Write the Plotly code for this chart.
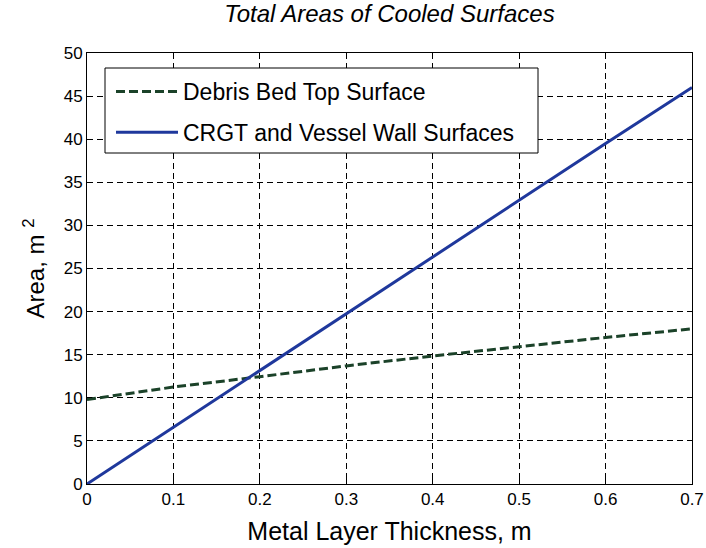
import plotly.graph_objects as go

thickness = [0.0, 0.1, 0.2, 0.3, 0.4, 0.5, 0.6, 0.7]
debris_area = [9.8, 11.25, 12.45, 13.7, 14.85, 15.95, 17.0, 18.0]
crgt_area = [0.0, 6.6, 13.1, 19.8, 26.3, 32.9, 39.5, 46.0]
x_ticks = [0, 0.1, 0.2, 0.3, 0.4, 0.5, 0.6, 0.7]
x_ticklabels = ["0", "0.1", "0.2", "0.3", "0.4", "0.5", "0.6", "0.7"]
y_ticks = [0, 5, 10, 15, 20, 25, 30, 35, 40, 45, 50]

FONT = "Liberation Sans, Arial, sans-serif"

fig = go.Figure()
fig.add_trace(go.Scatter(
    x=thickness, y=debris_area, mode="lines",
    name="Debris Bed Top Surface", legendgroup="a",
    line=dict(color="#1b4229", width=3, dash="9px,4px"),
))
fig.add_trace(go.Scatter(
    x=thickness, y=crgt_area, mode="lines",
    name="CRGT and Vessel Wall Surfaces", legendgroup="b",
    line=dict(color="#1f389c", width=3),
))

axis_common = dict(
    showline=True, linecolor="black", linewidth=1, mirror="ticks",
    ticks="inside", ticklen=5, tickcolor="black",
    showgrid=True, gridcolor="black", gridwidth=1, griddash="6px,4px",
    zeroline=False, automargin=False,
    tickfont=dict(family=FONT, size=17, color="black"),
)

fig.update_xaxes(
    range=[0, 0.7], tickvals=x_ticks, ticktext=x_ticklabels,
    title=dict(text="Metal Layer Thickness, m", font=dict(family=FONT, size=25, color="black"), standoff=14),
    **axis_common,
)
fig.update_yaxes(
    range=[0, 50], tickvals=y_ticks,
    title=dict(text="Area, m <sup>2</sup>", font=dict(family=FONT, size=24, color="black"), standoff=12),
    **axis_common,
)

# legend frame (MATLAB-style box)
fig.add_shape(type="rect", xref="paper", yref="paper",
              x0=(105 - 87) / 605, x1=(538 - 87) / 605,
              y0=(484 - 153) / 431, y1=(484 - 68) / 431,
              line=dict(color="black", width=1), fillcolor="white", layer="above")

fig.update_layout(
    width=706, height=548,
    margin=dict(l=87, r=14, t=53, b=64),
    paper_bgcolor="white", plot_bgcolor="white",
    title=dict(text="<i>Total Areas of Cooled Surfaces</i>", xref="paper", x=0.5, xanchor="center",
               y=1 - 14 / 548, yanchor="middle", font=dict(family=FONT, size=24, color="black"),
               automargin=False),
    showlegend=True,
    legend=dict(
        x=(111 - 87) / 605, y=(484 - 70) / 431, xanchor="left", yanchor="top",
        bgcolor="rgba(0,0,0,0)", borderwidth=0,
        font=dict(family=FONT, size=23, color="black"),
        itemwidth=62, tracegroupgap=8, traceorder="grouped",
    ),
)

fig.write_html("out.html", post_script="document.body.style.margin='0';",
               config={"displayModeBar": False})
